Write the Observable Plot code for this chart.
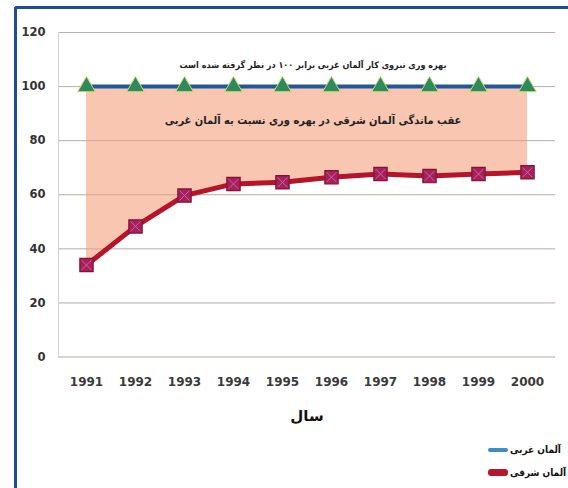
<!DOCTYPE html>
<html>
<head>
<meta charset="utf-8">
<script src="https://cdn.jsdelivr.net/npm/d3@7"></script>
<script src="https://cdn.jsdelivr.net/npm/@observablehq/plot@0.6"></script>
<style>
  html, body { margin: 0; padding: 0; background: #fff; }
  #wrap { position: relative; width: 568px; height: 488px; overflow: hidden; font-family: "DejaVu Sans", sans-serif; }
  #frame { position: absolute; left: 14px; top: 6px; width: 700px; height: 700px; border-left: 3px solid #1f4f8a; border-top: 3px solid #1f4f8a; border-top-left-radius: 3px; }
  #chart { position: absolute; left: 0; top: 0; }
  .leg { position: absolute; display: flex; align-items: center; direction: ltr; white-space: nowrap; font-family: "DejaVu Sans Condensed", "DejaVu Sans", sans-serif; font-size: 10px; font-weight: bold; color: #111; }
  .sw { display: inline-block; width: 20px; border-radius: 3px; margin-right: 2px; }
</style>
</head>
<body>
<div id="wrap">
  <div id="frame"></div>
  <div id="chart"></div>
</div>
<script>
const years = [1991, 1992, 1993, 1994, 1995, 1996, 1997, 1998, 1999, 2000];
const west = [100, 100, 100, 100, 100, 100, 100, 100, 100, 100];
const east = [34, 48.3, 59.7, 64, 64.6, 66.5, 67.7, 66.9, 67.7, 68.3];
const yTicks = [0, 20, 40, 60, 80, 100, 120];
const seriesNames = ["آلمان غربی", "آلمان شرقی"];
const seriesColors = ["#3b8fc2", "#b5172f"];
const annotations = [
  {y: 107.8, label: "بهره وری نیروی کار آلمان غربی برابر ۱۰۰ در نظر گرفته شده است", size: 9},
  {y: 87.5, label: "عقب ماندگی آلمان شرقی در بهره وری نسبت به آلمان غربی", size: 11}
];
const xTitle = "سال";

const data = years.map((y, i) => ({year: String(y), west: west[i], east: east[i]}));

const chart = Plot.plot({
  width: 568,
  height: 440,
  marginLeft: 58,
  marginRight: 13,
  marginTop: 32,
  marginBottom: 83.5,
  style: {fontFamily: "DejaVu Sans, sans-serif", background: "transparent"},
  x: {type: "point", domain: years.map(String), padding: 0.5, label: null},
  y: {domain: [0, 120], ticks: yTicks, label: null},
  marks: [
    Plot.gridY(yTicks, {stroke: "#d6d6d6", strokeOpacity: 1}),
    Plot.areaY(data, {x: "year", y1: "east", y2: "west", fill: "#f9c6b2"}),
    Plot.gridY(yTicks, {stroke: "#8a6a5a", strokeOpacity: 0.35}),
    Plot.frame({anchor: "left", stroke: "#d0d0d0"}),
    Plot.axisY({ticks: yTicks, tickSize: 0, tickPadding: 13, fontSize: 11.5, fontWeight: "bold", fill: "#333", label: null}),
    Plot.axisX({tickSize: 0, tickPadding: 20, fontSize: 12, fontWeight: "bold", fill: "#3a3a3a", label: null}),
    Plot.text([xTitle], {frameAnchor: "bottom", dy: 64, text: d => d, fontSize: 15, fontWeight: "bold", fill: "#111"}),
    Plot.text(annotations, {y: "y", text: "label", fontSize: d => d.size, fontWeight: "bold", fill: "#222", dx: 6, fontFamily: "DejaVu Sans Condensed, DejaVu Sans, sans-serif"}),
    Plot.lineY(data, {x: "year", y: "west", stroke: "#1f5a96", strokeWidth: 4}),
    Plot.dot(data, {x: "year", y: "west", symbol: "triangle", r: 6.5, fill: "#2e8a5e", stroke: "#c9d66a", strokeWidth: 1}),
    Plot.lineY(data, {x: "year", y: "east", stroke: "#b5142b", strokeWidth: 5}),
    Plot.dot(data, {x: "year", y: "east", symbol: "square", r: 7.5, fill: "#a3225e", stroke: "#8a1030", strokeWidth: 1.2}),
    Plot.dot(data, {x: "year", y: "east", symbol: "times", r: 4.5, stroke: "#d2609a", strokeWidth: 1})
  ]
});
document.getElementById("chart").appendChild(chart);

const wrap = document.getElementById("wrap");
const legendTops = [444, 467];
const legendHeights = [4, 7];
seriesNames.forEach((name, i) => {
  const d = document.createElement("div");
  d.className = "leg";
  d.style.left = "488px";
  d.style.top = legendTops[i] + "px";
  const sw = document.createElement("span");
  sw.className = "sw";
  sw.style.background = seriesColors[i];
  sw.style.height = legendHeights[i] + "px";
  const t = document.createElement("span");
  t.textContent = name;
  t.style.direction = "rtl";
  d.appendChild(sw);
  d.appendChild(t);
  wrap.appendChild(d);
});
</script>
</body>
</html>
